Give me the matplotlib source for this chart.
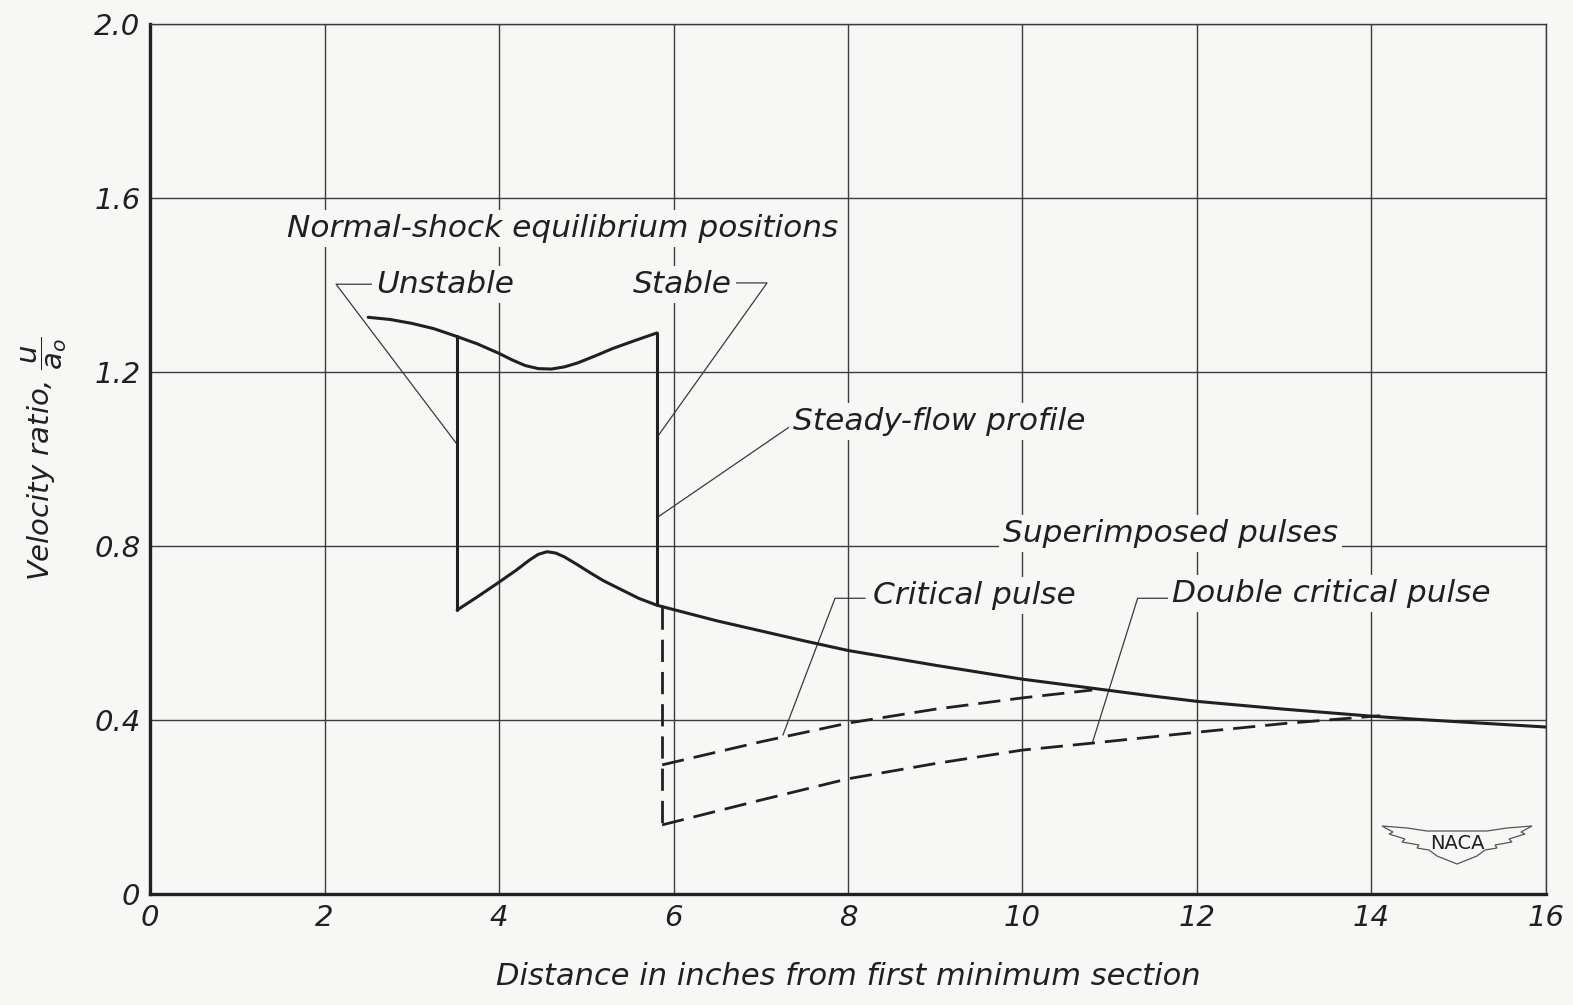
import numpy as np
import matplotlib.pyplot as plt
from matplotlib.patches import Polygon

plt.rcParams['font.family'] = ['DejaVu Sans']
plt.rcParams['font.style'] = 'italic'
plt.rcParams['mathtext.fontset'] = 'dejavusans'

bg = '#f7f7f6'
ink = '#231f20'

# Steady-flow profile, supersonic branch (upstream of the shock)
x_upper = [2.5, 2.75, 3.0, 3.25, 3.5, 3.75, 4.0, 4.15, 4.3, 4.45, 4.6, 4.75,
           4.9, 5.1, 5.3, 5.55, 5.81]
y_upper = [1.326, 1.321, 1.312, 1.300, 1.283, 1.265, 1.243, 1.228, 1.215,
           1.208, 1.207, 1.212, 1.221, 1.237, 1.254, 1.272, 1.29]

# Steady-flow profile, subsonic branch
x_lower = [3.52, 3.75, 4.0, 4.2, 4.35, 4.45, 4.55, 4.65, 4.75, 4.9, 5.05, 5.2,
           5.4, 5.6, 5.81, 6.0, 6.5, 7.0, 7.5, 8.0, 8.5, 9.0, 9.5, 10.0, 10.5,
           11.0, 11.5, 12.0, 12.5, 13.0, 13.5, 14.0, 14.5, 15.0, 15.5, 16.0]
y_lower = [0.653, 0.683, 0.717, 0.745, 0.768, 0.781, 0.787, 0.784, 0.775,
           0.757, 0.738, 0.720, 0.700, 0.680, 0.664, 0.654, 0.628, 0.605,
           0.582, 0.560, 0.543, 0.526, 0.510, 0.494, 0.481, 0.468, 0.455,
           0.443, 0.434, 0.425, 0.417, 0.409, 0.402, 0.396, 0.390, 0.384]

# Shock positions
x_unstable = 3.52
x_stable = 5.81
x_pulse = 5.87

# Superimposed pulses
x_crit = [5.87, 7.0, 8.0, 9.0, 10.0, 10.8]
y_crit = [0.297, 0.350, 0.393, 0.425, 0.451, 0.469]
x_dbl = [5.87, 7.0, 8.0, 9.0, 10.0, 10.8, 12.0, 13.0, 14.1]
y_dbl = [0.159, 0.216, 0.265, 0.300, 0.331, 0.347, 0.372, 0.392, 0.410]

fig = plt.figure(figsize=(15.73, 10.05), dpi=100, facecolor=bg)
ax = fig.add_axes([0.0954, 0.1104, 0.8874, 0.8656], facecolor=bg)

ax.set_xlim(0, 16)
ax.set_ylim(0, 2.0)
ax.set_xticks(np.arange(0, 17, 2))
ax.set_yticks([0, 0.4, 0.8, 1.2, 1.6, 2.0])
ax.set_yticklabels(['0', '0.4', '0.8', '1.2', '1.6', '2.0'])
ax.grid(True, color='#3c3c3c', lw=1.0)
ax.set_axisbelow(True)
ax.tick_params(length=0, labelsize=21, colors=ink, pad=7)
for s in ['left', 'bottom']:
    ax.spines[s].set_linewidth(2.4)
    ax.spines[s].set_color(ink)
for s in ['top', 'right']:
    ax.spines[s].set_linewidth(1.0)
    ax.spines[s].set_color('#3c3c3c')

lw = 2.2
line = dict(color=ink, lw=lw, zorder=3, solid_joinstyle='round', solid_capstyle='round')
ax.plot(x_upper, y_upper, **line)
ax.plot(x_lower, y_lower, **line)
ax.plot([x_unstable, x_unstable], [y_upper[4], y_lower[0]], **line)
ax.plot([x_stable, x_stable], [y_upper[-1], y_lower[14]], **line)

dash = dict(color=ink, lw=2.0, dashes=(8, 3.6), zorder=3)
ax.plot([x_pulse, x_pulse], [np.interp(x_pulse, x_lower, y_lower), y_dbl[0]], **dash)
ax.plot(x_crit, y_crit, **dash)
ax.plot(x_dbl, y_dbl, **dash)

# leaders
lead = dict(color='#3a3a3a', lw=0.9, zorder=2)
ax.plot([2.544, 2.132, 3.519], [1.402, 1.402, 1.034], **lead)
ax.plot([6.705, 7.072, 5.822], [1.405, 1.405, 1.053], **lead)
ax.plot([7.358, 5.822], [1.078, 0.867], **lead)
ax.plot([8.195, 7.851, 7.255], [0.680, 0.680, 0.366], **lead)
ax.plot([11.69, 11.32, 10.80], [0.680, 0.680, 0.347], **lead)

box = dict(facecolor=bg, edgecolor='none', pad=3)
tk = dict(fontsize=22.5, color=ink, va='center', zorder=4, bbox=box)
ax.text(4.733, 1.531, 'Normal-shock equilibrium positions', ha='center', **tk)
ax.text(2.59, 1.402, 'Unstable', ha='left', **tk)
ax.text(5.536, 1.402, 'Stable', ha='left', **tk)
ax.text(7.37, 1.087, 'Steady-flow profile', ha='left', **tk)
ax.text(9.776, 0.828, 'Superimposed pulses', ha='left', **tk)
ax.text(8.287, 0.687, 'Critical pulse', ha='left', **tk)
ax.text(11.71, 0.690, 'Double critical pulse', ha='left', **tk)

ax.set_xlabel('Distance in inches from first minimum section', fontsize=22,
              color=ink, labelpad=22)
ax.set_ylabel(r'Velocity ratio, $\dfrac{u}{a_o}$', fontsize=21, color=ink, labelpad=18)

# NACA wings badge
W, H = 1573.0, 1005.0
cx, cy = 1457.0, 840.0
wing = [(-75, -14), (-50, -12), (-30, -9), (0, -9), (30, -9), (50, -12), (75, -14),
        (64, -8), (68, -6), (52, -1), (55, 2), (38, 5), (40, 8), (28, 10),
        (20, 16), (10, 20), (0, 24), (-10, 20), (-20, 16), (-28, 10), (-40, 8),
        (-38, 5), (-55, 2), (-52, -1), (-68, -6), (-64, -8)]
pts = [((cx + dx) / W, 1 - (cy + dy) / H) for dx, dy in wing]
fig.patches.append(Polygon(pts, closed=True, fill=False, edgecolor='#555555',
                           lw=0.9, transform=fig.transFigure))
fig.text(cx / W, 1 - (cy + 3) / H, 'NACA', ha='center', va='center',
         fontsize=14, style='normal', color=ink)

fig.savefig('out.png', dpi=100, facecolor=bg)
